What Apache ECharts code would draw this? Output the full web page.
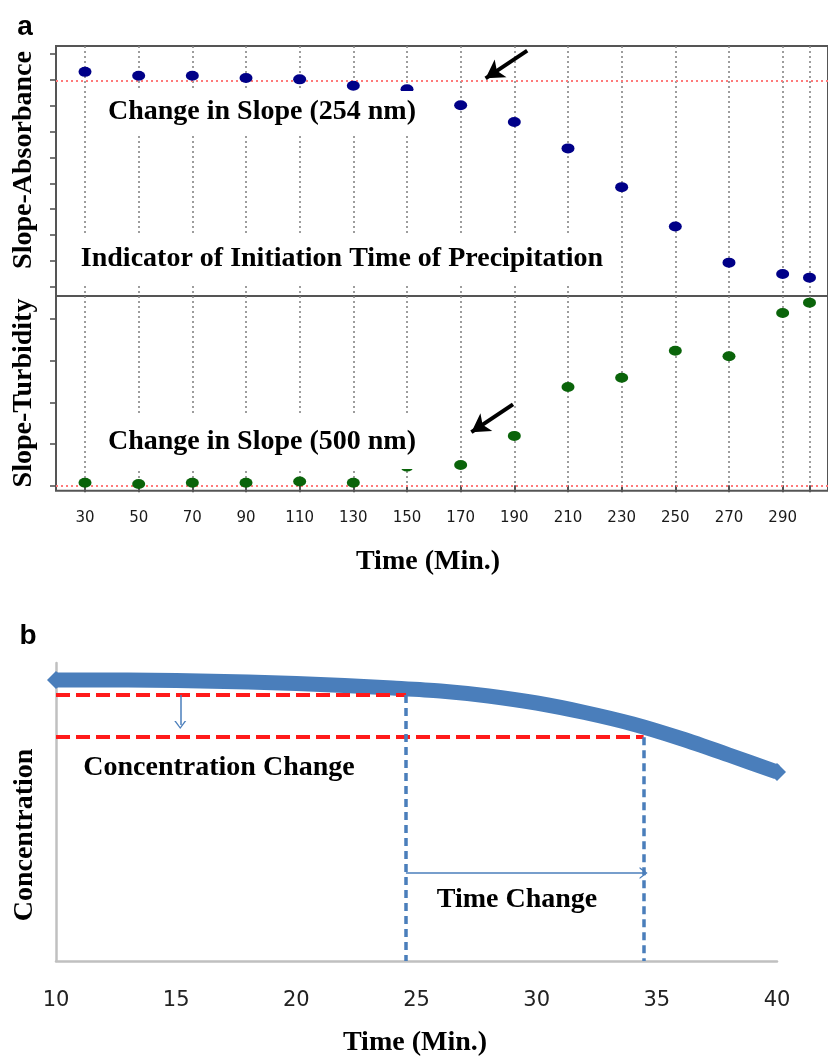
<!DOCTYPE html>
<html>
<head>
<meta charset="utf-8">
<script src="https://cdn.jsdelivr.net/npm/echarts@6/dist/echarts.min.js"></script>
<style>
  html, body { margin: 0; padding: 0; background: #ffffff; }
  #chart { width: 828px; height: 1058px; }
</style>
</head>
<body>
<div id="chart"></div>
<script>
// ---- Panel a: slope of absorbance (254 nm) and turbidity (500 nm) vs. time ----
const timeA = [30, 50, 70, 90, 110, 130, 150, 170, 190, 210, 230, 250, 270, 290, 300];
const slopeAbsorbance = [8.31, 8.16, 8.16, 8.07, 8.02, 7.77, 7.64, 7.02, 6.37, 5.35, 3.85, 2.33, 0.93, 0.49, 0.35];
const slopeTurbidity = [0.06, 0.03, 0.06, 0.06, 0.09, 0.06, 0.45, 0.49, 1.19, 2.37, 2.59, 3.24, 3.11, 4.15, 4.40];
const timeTicksA = [30, 50, 70, 90, 110, 130, 150, 170, 190, 210, 230, 250, 270, 290, 300];
const timeLabelsA = [30, 50, 70, 90, 110, 130, 150, 170, 190, 210, 230, 250, 270, 290];
const absTicks = [0, 1, 2, 3, 4, 5, 6, 7, 8, 9];
const turbTicks = [0, 1, 2, 3, 4];
const absBaseline = 7.96;
const turbBaseline = 0;
const absArrow = [[194.8, 9.13], [179.3, 8.06]];
const turbArrow = [[189.5, 1.95], [174.0, 1.28]];

// ---- Panel b: concentration vs. time ----
const timeB = [10, 12, 14, 16, 18, 20, 22, 24, 26, 28, 30, 32, 34, 36, 38, 40];
const concentration = [94.3, 94.3, 94.2, 93.96, 93.62, 93.12, 92.45, 91.61, 90.6, 88.93, 86.58, 83.39, 79.53, 74.66, 69.13, 63.42];
const concLevels = [89.3, 75.1];
const changeTimes = [24.56, 34.45];
const concArrow = [[15.17, 89.3], [15.17, 79.2]];
const timeArrowLevel = 29.5;

const SERIF = '"Liberation Serif", "Times New Roman", serif';
const AXIS_GREY = '#555555';
const BLUE = '#4a7ebb';
const PINK = '#ff7a7a';

// open V arrow head used for the thin blue arrows
const chevron = 'path://M0,10 L5,0 L10,10 L8.6,10 L5,2.6 L1.4,10 Z';

function label(text, x, y, opts) {
  return Object.assign({
    type: 'text', x: x, y: y, z: 100,
    style: Object.assign({
      text: text,
      font: 'bold 28px ' + SERIF,
      fill: '#000',
      textAlign: 'center',
      textVerticalAlign: 'middle'
    }, (opts && opts.style) || {})
  }, (opts && opts.el) || {});
}

// pink dotted reference level, drawn underneath the points
function baselineHost(xIdx, yIdx, level) {
  return {
    type: 'line', xAxisIndex: xIdx, yAxisIndex: yIdx, z: 1, data: [], silent: true,
    markLine: {
      z: 1, silent: true, animation: false, symbol: ['none', 'none'], label: { show: false },
      lineStyle: { color: PINK, type: [2, 3], width: 2 },
      data: [{ yAxis: level }]
    }
  };
}

// black pointer arrow, drawn above the points
function pointerArrow(from, to) {
  return [
    { coord: from, symbol: 'none', lineStyle: { color: '#000', type: 'solid', width: 4 } },
    { coord: to, symbol: 'arrow', symbolSize: [16, 18] }
  ];
}

const chart = echarts.init(document.getElementById('chart'), null, { renderer: 'canvas' });

const option = {
  animation: false,
  backgroundColor: '#ffffff',
  grid: [
    { left: 56, top: 46, width: 774, height: 250, show: true, borderColor: AXIS_GREY, borderWidth: 2, backgroundColor: 'transparent' },
    { left: 56, top: 296, width: 774, height: 194.7, show: true, borderColor: AXIS_GREY, borderWidth: 2, backgroundColor: 'transparent' },
    { left: 56, top: 663, width: 721, height: 298 }
  ],
  xAxis: [
    {
      gridIndex: 0, type: 'value', min: 19.19, max: 306.9,
      axisLine: { show: false },
      axisTick: { show: false, customValues: timeTicksA },
      axisLabel: { show: false, customValues: timeLabelsA },
      splitLine: { show: true, lineStyle: { color: '#858585', type: [2, 3], width: 1.6 } }
    },
    {
      gridIndex: 1, type: 'value', min: 19.19, max: 306.9,
      axisLine: { show: false },
      axisTick: { show: true, customValues: timeTicksA, inside: false, length: 7, lineStyle: { color: AXIS_GREY, width: 2 } },
      axisLabel: { show: true, customValues: timeLabelsA, margin: 20, fontFamily: '"DejaVu Sans", Verdana, sans-serif', fontSize: 15, color: '#1a1a1a' },
      splitLine: { show: true, lineStyle: { color: '#858585', type: [2, 3], width: 1.6 } }
    },
    {
      gridIndex: 2, type: 'value', min: 10, max: 40, interval: 5,
      axisLine: { show: true, onZero: false, lineStyle: { color: '#c0c0c0', width: 2.5 } },
      axisTick: { show: false },
      axisLabel: { margin: 29, fontFamily: '"DejaVu Sans", sans-serif', fontSize: 21, color: '#222' },
      splitLine: { show: false }
    }
  ],
  yAxis: [
    {
      gridIndex: 0, type: 'value', min: -0.36, max: 9.31,
      axisLine: { show: false },
      axisTick: { show: true, customValues: absTicks, inside: false, length: 6, lineStyle: { color: AXIS_GREY, width: 1.6 } },
      axisLabel: { show: false },
      splitLine: { show: false }
    },
    {
      gridIndex: 1, type: 'value', min: -0.13, max: 4.56,
      axisLine: { show: false },
      axisTick: { show: true, customValues: turbTicks, inside: false, length: 6, lineStyle: { color: AXIS_GREY, width: 1.6 } },
      axisLabel: { show: false },
      splitLine: { show: false }
    },
    {
      gridIndex: 2, type: 'value', min: 0, max: 100,
      axisLine: { show: true, onZero: false, lineStyle: { color: '#c0c0c0', width: 2.5 } },
      axisTick: { show: false },
      axisLabel: { show: false },
      splitLine: { show: false }
    }
  ],
  series: [
    baselineHost(0, 0, absBaseline),
    baselineHost(1, 1, turbBaseline),
    {
      name: 'Slope-Absorbance', type: 'scatter', xAxisIndex: 0, yAxisIndex: 0, z: 3,
      data: timeA.map((t, i) => [t, slopeAbsorbance[i]]),
      symbol: 'circle', symbolSize: [13, 10],
      itemStyle: { color: '#000088', opacity: 1 },
      markLine: {
        silent: true, animation: false, symbol: ['none', 'none'], label: { show: false },
        data: [pointerArrow(absArrow[0], absArrow[1])]
      }
    },
    {
      name: 'Slope-Turbidity', type: 'scatter', xAxisIndex: 1, yAxisIndex: 1, z: 3,
      data: timeA.map((t, i) => [t, slopeTurbidity[i]]),
      symbol: 'circle', symbolSize: [13, 10],
      itemStyle: { color: '#0a640a', opacity: 1 },
      markLine: {
        silent: true, animation: false, symbol: ['none', 'none'], label: { show: false },
        data: [pointerArrow(turbArrow[0], turbArrow[1])]
      }
    },
    {
      name: 'Concentration', type: 'line', xAxisIndex: 2, yAxisIndex: 2,
      data: timeB.map((t, i) => {
        const end = i === 0 || i === timeB.length - 1;
        return end ? { value: [t, concentration[i]], symbol: 'diamond', symbolSize: 18 } : [t, concentration[i]];
      }),
      smooth: 0.3,
      showSymbol: true, symbol: 'none',
      lineStyle: { color: BLUE, width: 15 },
      itemStyle: { color: BLUE },
      markLine: {
        silent: true, animation: false, symbol: ['none', 'none'], label: { show: false },
        data: [
          // concentration levels (red dashed)
          [
            { coord: [10, concLevels[0]], lineStyle: { color: '#ff1a1a', type: [14, 6], width: 4 } },
            { coord: [changeTimes[0], concLevels[0]] }
          ],
          [
            { coord: [10, concLevels[1]], lineStyle: { color: '#ff1a1a', type: [14, 6], width: 4 } },
            { coord: [changeTimes[1], concLevels[1]] }
          ],
          // time markers (blue dashed)
          [
            { coord: [changeTimes[0], concLevels[0]], lineStyle: { color: BLUE, type: [8, 5], width: 3.5 } },
            { coord: [changeTimes[0], 0] }
          ],
          [
            { coord: [changeTimes[1], concLevels[1]], lineStyle: { color: BLUE, type: [8, 5], width: 3.5 } },
            { coord: [changeTimes[1], 0] }
          ],
          // concentration change arrow
          [
            { coord: concArrow[0], lineStyle: { color: BLUE, type: 'solid', width: 1.5 } },
            { coord: concArrow[1], symbol: chevron, symbolSize: [12, 8] }
          ],
          // time change arrow
          [
            { coord: [changeTimes[0], timeArrowLevel], lineStyle: { color: BLUE, type: 'solid', width: 1.5 } },
            { coord: [changeTimes[1], timeArrowLevel], symbol: chevron, symbolSize: [12, 8] }
          ]
        ]
      }
    }
  ],
  graphic: [
    label('a', 25, 27, { style: { font: 'bold 28px "Liberation Sans", Arial, sans-serif' } }),
    label('b', 28, 636, { style: { font: 'bold 28px "Liberation Sans", Arial, sans-serif' } }),
    label('Change in Slope (254 nm)', 262, 112, { style: { backgroundColor: '#fff', padding: [14, 8, 0, 8] } }),
    label('Indicator of Initiation Time of Precipitation', 342, 259, { style: { backgroundColor: '#fff', padding: [10, 12, 10, 12] } }),
    label('Change in Slope (500 nm)', 262, 442, { style: { backgroundColor: '#fff', padding: [13, 8, 13, 8] } }),
    label('Slope-Absorbance', 24, 160, { el: { rotation: Math.PI / 2 } }),
    label('Slope-Turbidity', 24, 393, { el: { rotation: Math.PI / 2 } }),
    label('Time (Min.)', 428, 562),
    label('Concentration Change', 219, 768),
    label('Time Change', 517, 900),
    label('Concentration', 25, 835, { el: { rotation: Math.PI / 2 } }),
    label('Time (Min.)', 415, 1043)
  ]
};

chart.setOption(option);
</script>
</body>
</html>
